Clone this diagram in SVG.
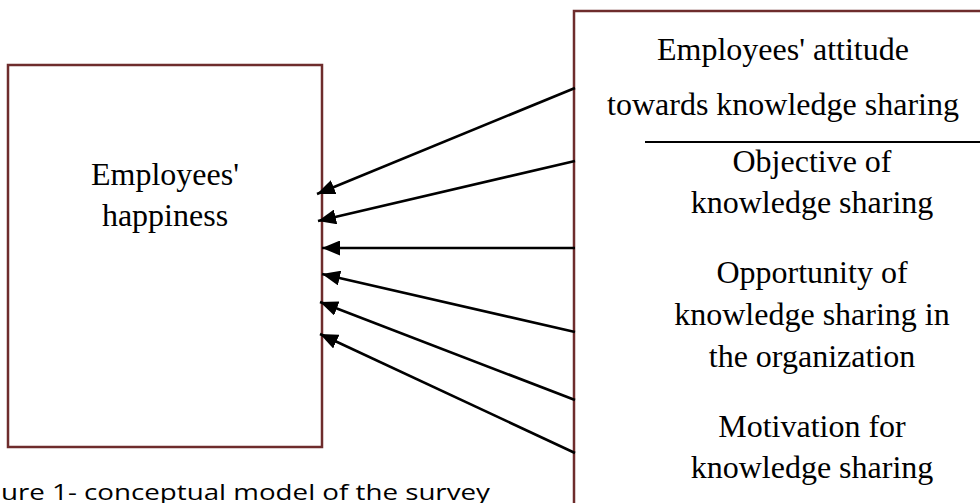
<svg xmlns="http://www.w3.org/2000/svg" width="980" height="503" viewBox="0 0 980 503">
<style>
.box{fill:#fff;stroke:#6e2c2c;stroke-width:2.5}
.t{font-family:"Liberation Serif","Times New Roman",serif;font-size:32px;fill:#000;text-anchor:middle}
.cap{font-family:"Open Sans","Liberation Sans",sans-serif;font-size:22px;fill:#000}
.c{stroke:#000;stroke-width:2.6;fill:none;marker-end:url(#ah)}
</style>
<defs>
<marker id="ah" markerUnits="userSpaceOnUse" markerWidth="19" markerHeight="15" refX="18" refY="7.5" orient="auto">
<path d="M0,0 L18,7.5 L0,15 Z" fill="#000"/>
</marker>
</defs>
<rect width="980" height="503" fill="#fff"/>
<g id="happiness">
<rect class="box" x="8" y="65" width="314" height="382"/>
<text class="t" x="165" y="185">Employees'</text>
<text class="t" x="165" y="226">happiness</text>
</g>
<g id="factors">
<rect class="box" x="574" y="11" width="420" height="520"/>
<text class="t" x="783" y="60">Employees' attitude</text>
<text class="t" x="783" y="115">towards knowledge sharing</text>
<line x1="645" y1="142" x2="980" y2="142" stroke="#000" stroke-width="2"/>
<text class="t" x="812" y="172">Objective of</text>
<text class="t" x="812" y="213">knowledge sharing</text>
<text class="t" x="812" y="283">Opportunity of</text>
<text class="t" x="812" y="325">knowledge sharing in</text>
<text class="t" x="812" y="367">the organization</text>
<text class="t" x="812" y="437">Motivation for</text>
<text class="t" x="812" y="478">knowledge sharing</text>
</g>
<g id="connectors">
<line class="c" x1="575" y1="88" x2="317" y2="194"/>
<line class="c" x1="575" y1="161" x2="318" y2="221"/>
<line class="c" x1="575" y1="248" x2="322" y2="248"/>
<line class="c" x1="575" y1="332" x2="322" y2="274"/>
<line class="c" x1="575" y1="400" x2="320" y2="302"/>
<line class="c" x1="575" y1="453" x2="320" y2="334"/>
</g>
<g id="caption">
<text class="cap" x="1" y="500" textLength="489" lengthAdjust="spacingAndGlyphs">ure 1- conceptual model of the survey</text>
</g>
</svg>
